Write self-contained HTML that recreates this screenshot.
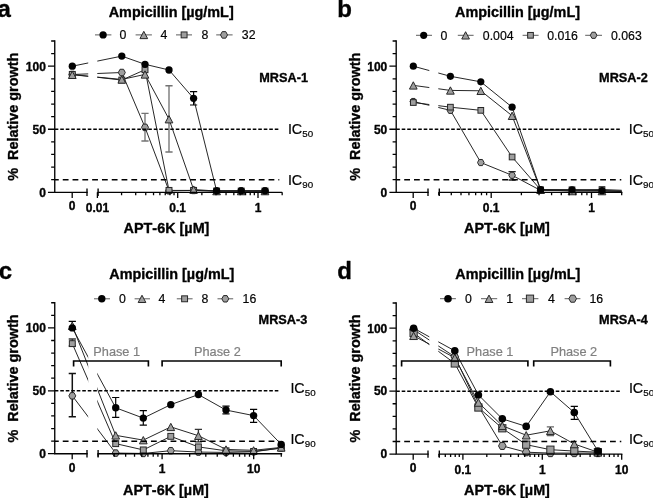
<!DOCTYPE html>
<html><head><meta charset="utf-8"><title>Figure</title>
<style>
html,body{margin:0;padding:0;background:#fff;}
body{width:653px;height:498px;overflow:hidden;font-family:"Liberation Sans",sans-serif;}
svg{display:block;will-change:opacity;font-family:"Liberation Sans",sans-serif;font-kerning:none;}

</style></head><body>
<svg width="653" height="498" viewBox="0 0 653 498">
<rect width="653" height="498" fill="#fff"/>
<g opacity="0.995">
<text x="-2.6" y="16.7" font-size="24" font-weight="700" stroke="#000" stroke-width="0.35" stroke-linejoin="round">a</text>
<text x="171.2" y="17.0" font-size="14.4" font-weight="700" stroke="#000" stroke-width="0.35" stroke-linejoin="round" text-anchor="middle">Ampicillin [µg/mL]</text>
<text transform="translate(18.4,116.7) rotate(-90)" font-size="14.4" font-weight="700" stroke="#000" stroke-width="0.35" stroke-linejoin="round" text-anchor="middle" xml:space="preserve">%  Relative growth</text>
<text x="166.5" y="233.2" font-size="14.4" font-weight="700" stroke="#000" stroke-width="0.35" stroke-linejoin="round" text-anchor="middle">APT-6K [µM]</text>
<text x="259.3" y="82.3" font-size="12.7" font-weight="700" stroke="#000" stroke-width="0.35" stroke-linejoin="round">MRSA-1</text>
<clipPath id="clipa"><rect x="0" y="0" width="88.2" height="498"/><rect x="97.3" y="0" width="700" height="498"/></clipPath>
<path d="M72.30 74.52L121.80 72.51L145.00 127.36L169.00 190.79L193.60 190.41L216.60 191.04L241.20 191.04L265.00 191.04" stroke="#1a1a1a" stroke-width="0.95" fill="none" clip-path="url(#clipa)" stroke-linejoin="round"/>
<path d="M72.30 74.40L121.80 80.07L145.00 69.73L169.00 190.41L193.60 190.41L216.60 191.04L241.20 191.04L265.00 191.04" stroke="#1a1a1a" stroke-width="0.95" fill="none" clip-path="url(#clipa)" stroke-linejoin="round"/>
<path d="M72.30 74.77L121.80 79.44L145.00 74.40L169.00 119.16L193.60 189.53L216.60 191.04L241.20 191.04L265.00 191.04" stroke="#1a1a1a" stroke-width="0.95" fill="none" clip-path="url(#clipa)" stroke-linejoin="round"/>
<path d="M72.30 66.20L121.80 56.11L145.00 64.31L169.00 69.98L193.60 98.36L216.60 190.79L241.20 190.79L265.00 190.79" stroke="#1a1a1a" stroke-width="0.95" fill="none" clip-path="url(#clipa)" stroke-linejoin="round"/>
<path d="M145.00 113.30V141.00M141.40 113.30H148.60M141.40 141.00H148.60" stroke="#727272" stroke-width="1.35" fill="none"/>
<polygon points="75.80,74.52 74.05,77.78 70.55,77.78 68.80,74.52 70.55,71.27 74.05,71.27" fill="#9e9e9e" stroke="#262626" stroke-width="1.0"/>
<polygon points="125.30,72.51 123.55,75.76 120.05,75.76 118.30,72.51 120.05,69.25 123.55,69.25" fill="#9e9e9e" stroke="#262626" stroke-width="1.0"/>
<polygon points="148.50,127.36 146.75,130.61 143.25,130.61 141.50,127.36 143.25,124.10 146.75,124.10" fill="#9e9e9e" stroke="#262626" stroke-width="1.0"/>
<polygon points="172.50,190.79 170.75,194.04 167.25,194.04 165.50,190.79 167.25,187.53 170.75,187.53" fill="#9e9e9e" stroke="#262626" stroke-width="1.0"/>
<polygon points="197.10,190.41 195.35,193.66 191.85,193.66 190.10,190.41 191.85,187.15 195.35,187.15" fill="#9e9e9e" stroke="#262626" stroke-width="1.0"/>
<polygon points="220.10,191.04 218.35,194.29 214.85,194.29 213.10,191.04 214.85,187.78 218.35,187.78" fill="#9e9e9e" stroke="#262626" stroke-width="1.0"/>
<polygon points="244.70,191.04 242.95,194.29 239.45,194.29 237.70,191.04 239.45,187.78 242.95,187.78" fill="#9e9e9e" stroke="#262626" stroke-width="1.0"/>
<polygon points="268.50,191.04 266.75,194.29 263.25,194.29 261.50,191.04 263.25,187.78 266.75,187.78" fill="#9e9e9e" stroke="#262626" stroke-width="1.0"/>
<rect x="69.35" y="71.45" width="5.90" height="5.90" fill="#9e9e9e" stroke="#262626" stroke-width="1.0"/>
<rect x="118.85" y="77.12" width="5.90" height="5.90" fill="#9e9e9e" stroke="#262626" stroke-width="1.0"/>
<rect x="142.05" y="66.78" width="5.90" height="5.90" fill="#9e9e9e" stroke="#262626" stroke-width="1.0"/>
<rect x="166.05" y="187.46" width="5.90" height="5.90" fill="#9e9e9e" stroke="#262626" stroke-width="1.0"/>
<rect x="190.65" y="187.46" width="5.90" height="5.90" fill="#9e9e9e" stroke="#262626" stroke-width="1.0"/>
<rect x="213.65" y="188.09" width="5.90" height="5.90" fill="#9e9e9e" stroke="#262626" stroke-width="1.0"/>
<rect x="238.25" y="188.09" width="5.90" height="5.90" fill="#9e9e9e" stroke="#262626" stroke-width="1.0"/>
<rect x="262.05" y="188.09" width="5.90" height="5.90" fill="#9e9e9e" stroke="#262626" stroke-width="1.0"/>
<path d="M169.00 85.70V152.00M165.40 85.70H172.60M165.40 152.00H172.60" stroke="#727272" stroke-width="1.35" fill="none"/>
<path d="M72.30 71.19L76.15 78.51L68.45 78.51Z" fill="#9e9e9e" stroke="#262626" stroke-width="1.0" stroke-linejoin="miter"/>
<path d="M121.80 75.86L125.65 83.17L117.95 83.17Z" fill="#9e9e9e" stroke="#262626" stroke-width="1.0" stroke-linejoin="miter"/>
<path d="M145.00 70.82L148.85 78.13L141.15 78.13Z" fill="#9e9e9e" stroke="#262626" stroke-width="1.0" stroke-linejoin="miter"/>
<path d="M169.00 115.58L172.85 122.90L165.15 122.90Z" fill="#9e9e9e" stroke="#262626" stroke-width="1.0" stroke-linejoin="miter"/>
<path d="M193.60 185.95L197.45 193.26L189.75 193.26Z" fill="#9e9e9e" stroke="#262626" stroke-width="1.0" stroke-linejoin="miter"/>
<path d="M216.60 187.46L220.45 194.77L212.75 194.77Z" fill="#9e9e9e" stroke="#262626" stroke-width="1.0" stroke-linejoin="miter"/>
<path d="M241.20 187.46L245.05 194.77L237.35 194.77Z" fill="#9e9e9e" stroke="#262626" stroke-width="1.0" stroke-linejoin="miter"/>
<path d="M265.00 187.46L268.85 194.77L261.15 194.77Z" fill="#9e9e9e" stroke="#262626" stroke-width="1.0" stroke-linejoin="miter"/>
<path d="M193.60 91.70V105.00M190.00 91.70H197.20M190.00 105.00H197.20" stroke="#000" stroke-width="1.2" fill="none"/>
<circle cx="72.30" cy="66.20" r="3.65" fill="#000"/>
<circle cx="121.80" cy="56.11" r="3.65" fill="#000"/>
<circle cx="145.00" cy="64.31" r="3.65" fill="#000"/>
<circle cx="169.00" cy="69.98" r="3.65" fill="#000"/>
<circle cx="193.60" cy="98.36" r="3.65" fill="#000"/>
<circle cx="216.60" cy="190.79" r="3.65" fill="#000"/>
<circle cx="241.20" cy="190.79" r="3.65" fill="#000"/>
<circle cx="265.00" cy="190.79" r="3.65" fill="#000"/>
<path d="M54.75 129.25H279.3" stroke="#000" stroke-width="1.45" stroke-dasharray="3.6 1.9" fill="none"/>
<path d="M54.75 179.69H279.3" stroke="#000" stroke-width="1.45" stroke-dasharray="5.8 4.0" stroke-dashoffset="1.8" fill="none"/>
<text x="287.9" y="134.00" font-size="14.3" stroke="#000" stroke-width="0.2">IC<tspan font-size="9.8" dy="3.2">50</tspan></text>
<text x="287.9" y="184.70" font-size="14.3" stroke="#000" stroke-width="0.2">IC<tspan font-size="9.8" dy="3.2">90</tspan></text>
<path d="M54.75 40.98V192.30H87.0M98.1 192.30H281.5" stroke="#000" stroke-width="1.35" fill="none" stroke-linecap="square"/>
<path d="M87.0 188.60V196.00M98.1 188.60V196.00" stroke="#000" stroke-width="1.35" fill="none"/>
<path d="M47.95 192.30H54.75M51.15 179.69H54.75M51.15 167.08H54.75M51.15 154.47H54.75M51.15 141.86H54.75M47.95 129.25H54.75M51.15 116.64H54.75M51.15 104.03H54.75M51.15 91.42H54.75M51.15 78.81H54.75M47.95 66.20H54.75M51.15 53.59H54.75M51.15 40.98H54.75" stroke="#000" stroke-width="1.3" fill="none"/>
<text x="45.85" y="196.60" font-size="12" font-weight="700" stroke="#000" stroke-width="0.35" stroke-linejoin="round" text-anchor="end">0</text>
<text x="45.85" y="133.55" font-size="12" font-weight="700" stroke="#000" stroke-width="0.35" stroke-linejoin="round" text-anchor="end">50</text>
<text x="45.85" y="70.50" font-size="12" font-weight="700" stroke="#000" stroke-width="0.35" stroke-linejoin="round" text-anchor="end">100</text>
<path d="M72.2 192.3v5.6M97.40 192.3v5.6M121.57 192.3v3.0M135.71 192.3v3.0M145.75 192.3v3.0M153.53 192.3v3.0M159.89 192.3v3.0M165.26 192.3v3.0M169.92 192.3v3.0M174.03 192.3v3.0M177.70 192.3v5.6M201.87 192.3v3.0M216.01 192.3v3.0M226.05 192.3v3.0M233.83 192.3v3.0M240.19 192.3v3.0M245.56 192.3v3.0M250.22 192.3v3.0M254.33 192.3v3.0M258.00 192.3v5.6M282.17 192.3v3.0" stroke="#000" stroke-width="1.3" fill="none"/>
<text x="72.2" y="210.30" font-size="12" font-weight="700" stroke="#000" stroke-width="0.35" stroke-linejoin="round" text-anchor="middle">0</text>
<text x="97.40" y="212.00" font-size="12" font-weight="700" stroke="#000" stroke-width="0.35" stroke-linejoin="round" text-anchor="middle">0.01</text>
<text x="177.70" y="212.00" font-size="12" font-weight="700" stroke="#000" stroke-width="0.35" stroke-linejoin="round" text-anchor="middle">0.1</text>
<text x="258.00" y="212.00" font-size="12" font-weight="700" stroke="#000" stroke-width="0.35" stroke-linejoin="round" text-anchor="middle">1</text>
<path d="M95.0 34.9H111.4" stroke="#333" stroke-width="0.8"/>
<circle cx="103.10" cy="34.90" r="3.65" fill="#000"/>
<text x="119.6" y="39.20" font-size="12.3" stroke="#000" stroke-width="0.2">0</text>
<path d="M135.6 34.9H151.9" stroke="#333" stroke-width="0.8"/>
<path d="M143.80 31.32L147.65 38.63L139.95 38.63Z" fill="#9e9e9e" stroke="#262626" stroke-width="1.0" stroke-linejoin="miter"/>
<text x="160.6" y="39.20" font-size="12.3" stroke="#000" stroke-width="0.2">4</text>
<path d="M176.0 34.9H192.0" stroke="#333" stroke-width="0.8"/>
<rect x="181.15" y="31.95" width="5.90" height="5.90" fill="#9e9e9e" stroke="#262626" stroke-width="1.0"/>
<text x="201.5" y="39.20" font-size="12.3" stroke="#000" stroke-width="0.2">8</text>
<path d="M216.2 34.9H232.6" stroke="#333" stroke-width="0.8"/>
<polygon points="227.50,34.90 225.75,38.16 222.25,38.16 220.50,34.90 222.25,31.64 225.75,31.64" fill="#9e9e9e" stroke="#262626" stroke-width="1.0"/>
<text x="241.8" y="39.20" font-size="12.3" stroke="#000" stroke-width="0.2">32</text>
<text x="337.2" y="16.7" font-size="24" font-weight="700" stroke="#000" stroke-width="0.35" stroke-linejoin="round">b</text>
<text x="517.5" y="17.0" font-size="14.4" font-weight="700" stroke="#000" stroke-width="0.35" stroke-linejoin="round" text-anchor="middle">Ampicillin [µg/mL]</text>
<text transform="translate(359.6,116.7) rotate(-90)" font-size="14.4" font-weight="700" stroke="#000" stroke-width="0.35" stroke-linejoin="round" text-anchor="middle" xml:space="preserve">%  Relative growth</text>
<text x="507.0" y="233.3" font-size="14.4" font-weight="700" stroke="#000" stroke-width="0.35" stroke-linejoin="round" text-anchor="middle">APT-6K [µM]</text>
<text x="599.1" y="82.3" font-size="12.7" font-weight="700" stroke="#000" stroke-width="0.35" stroke-linejoin="round">MRSA-2</text>
<clipPath id="clipb"><rect x="0" y="0" width="429.3" height="498"/><rect x="438.3" y="0" width="700" height="498"/></clipPath>
<path d="M413.30 101.51L450.40 110.34L480.80 162.54L512.10 175.28L540.60 190.41L572.00 190.66L602.00 190.79L621.70 191.04" stroke="#1a1a1a" stroke-width="0.95" fill="none" clip-path="url(#clipb)" stroke-linejoin="round"/>
<path d="M413.30 102.52L450.40 107.18L480.80 110.34L512.10 156.99L540.60 189.78L572.00 189.78L602.00 189.53L621.70 190.28" stroke="#1a1a1a" stroke-width="0.95" fill="none" clip-path="url(#clipb)" stroke-linejoin="round"/>
<path d="M413.30 85.37L450.40 90.41L480.80 90.79L512.10 115.76L540.60 189.78L572.00 191.04L602.00 191.04L621.70 191.29" stroke="#1a1a1a" stroke-width="0.95" fill="none" clip-path="url(#clipb)" stroke-linejoin="round"/>
<path d="M413.30 66.20L450.40 76.29L480.80 81.84L512.10 107.18L540.60 189.53L572.00 189.78L602.00 190.66L621.70 191.54" stroke="#1a1a1a" stroke-width="0.95" fill="none" clip-path="url(#clipb)" stroke-linejoin="round"/>
<path d="M512.10 171.60V180.00M508.50 171.60H515.70M508.50 180.00H515.70" stroke="#222" stroke-width="1.35" fill="none"/>
<polygon points="416.60,101.51 414.95,104.58 411.65,104.58 410.00,101.51 411.65,98.44 414.95,98.44" fill="#9e9e9e" stroke="#262626" stroke-width="1.0"/>
<polygon points="453.70,110.34 452.05,113.40 448.75,113.40 447.10,110.34 448.75,107.27 452.05,107.27" fill="#9e9e9e" stroke="#262626" stroke-width="1.0"/>
<polygon points="484.10,162.54 482.45,165.61 479.15,165.61 477.50,162.54 479.15,159.47 482.45,159.47" fill="#9e9e9e" stroke="#262626" stroke-width="1.0"/>
<polygon points="515.40,175.28 513.75,178.35 510.45,178.35 508.80,175.28 510.45,172.21 513.75,172.21" fill="#9e9e9e" stroke="#262626" stroke-width="1.0"/>
<polygon points="543.90,190.41 542.25,193.48 538.95,193.48 537.30,190.41 538.95,187.34 542.25,187.34" fill="#9e9e9e" stroke="#262626" stroke-width="1.0"/>
<polygon points="575.30,190.66 573.65,193.73 570.35,193.73 568.70,190.66 570.35,187.59 573.65,187.59" fill="#9e9e9e" stroke="#262626" stroke-width="1.0"/>
<polygon points="605.30,190.79 603.65,193.86 600.35,193.86 598.70,190.79 600.35,187.72 603.65,187.72" fill="#9e9e9e" stroke="#262626" stroke-width="1.0"/>
<rect x="410.45" y="99.67" width="5.70" height="5.70" fill="#9e9e9e" stroke="#262626" stroke-width="1.0"/>
<rect x="447.55" y="104.33" width="5.70" height="5.70" fill="#9e9e9e" stroke="#262626" stroke-width="1.0"/>
<rect x="477.95" y="107.49" width="5.70" height="5.70" fill="#9e9e9e" stroke="#262626" stroke-width="1.0"/>
<rect x="509.25" y="154.14" width="5.70" height="5.70" fill="#9e9e9e" stroke="#262626" stroke-width="1.0"/>
<rect x="537.75" y="186.93" width="5.70" height="5.70" fill="#9e9e9e" stroke="#262626" stroke-width="1.0"/>
<rect x="569.15" y="186.93" width="5.70" height="5.70" fill="#9e9e9e" stroke="#262626" stroke-width="1.0"/>
<rect x="599.15" y="186.68" width="5.70" height="5.70" fill="#9e9e9e" stroke="#262626" stroke-width="1.0"/>
<path d="M413.30 81.79L417.15 89.10L409.45 89.10Z" fill="#9e9e9e" stroke="#262626" stroke-width="1.0" stroke-linejoin="miter"/>
<path d="M450.40 86.83L454.25 94.15L446.55 94.15Z" fill="#9e9e9e" stroke="#262626" stroke-width="1.0" stroke-linejoin="miter"/>
<path d="M480.80 87.21L484.65 94.52L476.95 94.52Z" fill="#9e9e9e" stroke="#262626" stroke-width="1.0" stroke-linejoin="miter"/>
<path d="M512.10 112.18L515.95 119.49L508.25 119.49Z" fill="#9e9e9e" stroke="#262626" stroke-width="1.0" stroke-linejoin="miter"/>
<path d="M540.60 186.20L544.45 193.51L536.75 193.51Z" fill="#9e9e9e" stroke="#262626" stroke-width="1.0" stroke-linejoin="miter"/>
<path d="M572.00 187.46L575.85 194.77L568.15 194.77Z" fill="#9e9e9e" stroke="#262626" stroke-width="1.0" stroke-linejoin="miter"/>
<path d="M602.00 187.46L605.85 194.77L598.15 194.77Z" fill="#9e9e9e" stroke="#262626" stroke-width="1.0" stroke-linejoin="miter"/>
<circle cx="413.30" cy="66.20" r="3.60" fill="#000"/>
<circle cx="450.40" cy="76.29" r="3.60" fill="#000"/>
<circle cx="480.80" cy="81.84" r="3.60" fill="#000"/>
<circle cx="512.10" cy="107.18" r="3.60" fill="#000"/>
<circle cx="540.60" cy="189.53" r="3.60" fill="#000"/>
<circle cx="572.00" cy="189.78" r="3.60" fill="#000"/>
<circle cx="602.00" cy="190.66" r="3.60" fill="#000"/>
<path d="M396.2 129.25H621.3" stroke="#000" stroke-width="1.45" stroke-dasharray="3.6 1.9" fill="none"/>
<path d="M396.2 179.69H621.3" stroke="#000" stroke-width="1.45" stroke-dasharray="5.8 4.0" stroke-dashoffset="1.8" fill="none"/>
<text x="628.7" y="133.90" font-size="14.3" stroke="#000" stroke-width="0.2">IC<tspan font-size="9.8" dy="3.2">50</tspan></text>
<text x="628.7" y="184.80" font-size="14.3" stroke="#000" stroke-width="0.2">IC<tspan font-size="9.8" dy="3.2">90</tspan></text>
<path d="M396.2 40.98V192.30H428.0M439.3 192.30H621.7" stroke="#000" stroke-width="1.35" fill="none" stroke-linecap="square"/>
<path d="M428.0 188.60V196.00M439.3 188.60V196.00" stroke="#000" stroke-width="1.35" fill="none"/>
<path d="M389.40 192.30H396.2M392.60 179.69H396.2M392.60 167.08H396.2M392.60 154.47H396.2M392.60 141.86H396.2M389.40 129.25H396.2M392.60 116.64H396.2M392.60 104.03H396.2M392.60 91.42H396.2M392.60 78.81H396.2M389.40 66.20H396.2M392.60 53.59H396.2M392.60 40.98H396.2" stroke="#000" stroke-width="1.3" fill="none"/>
<text x="387.30" y="196.60" font-size="12" font-weight="700" stroke="#000" stroke-width="0.35" stroke-linejoin="round" text-anchor="end">0</text>
<text x="387.30" y="133.55" font-size="12" font-weight="700" stroke="#000" stroke-width="0.35" stroke-linejoin="round" text-anchor="end">50</text>
<text x="387.30" y="70.50" font-size="12" font-weight="700" stroke="#000" stroke-width="0.35" stroke-linejoin="round" text-anchor="end">100</text>
<path d="M413.2 192.3v5.6M438.76 192.3v3.0M451.29 192.3v3.0M461.01 192.3v3.0M468.95 192.3v3.0M475.66 192.3v3.0M481.48 192.3v3.0M486.61 192.3v3.0M491.20 192.3v5.6M521.39 192.3v3.0M539.06 192.3v3.0M551.59 192.3v3.0M561.31 192.3v3.0M569.25 192.3v3.0M575.96 192.3v3.0M581.78 192.3v3.0M586.91 192.3v3.0M591.50 192.3v5.6M621.69 192.3v3.0" stroke="#000" stroke-width="1.3" fill="none"/>
<text x="413.2" y="210.30" font-size="12" font-weight="700" stroke="#000" stroke-width="0.35" stroke-linejoin="round" text-anchor="middle">0</text>
<text x="491.20" y="212.00" font-size="12" font-weight="700" stroke="#000" stroke-width="0.35" stroke-linejoin="round" text-anchor="middle">0.1</text>
<text x="591.50" y="212.00" font-size="12" font-weight="700" stroke="#000" stroke-width="0.35" stroke-linejoin="round" text-anchor="middle">1</text>
<path d="M416.0 35.3H432.0" stroke="#333" stroke-width="0.8"/>
<circle cx="423.70" cy="35.30" r="3.60" fill="#000"/>
<text x="440.5" y="39.60" font-size="12.3" stroke="#000" stroke-width="0.2">0</text>
<path d="M457.8 35.3H473.6" stroke="#333" stroke-width="0.8"/>
<path d="M465.60 31.72L469.45 39.03L461.75 39.03Z" fill="#9e9e9e" stroke="#262626" stroke-width="1.0" stroke-linejoin="miter"/>
<text x="482.8" y="39.60" font-size="12.3" stroke="#000" stroke-width="0.2">0.004</text>
<path d="M522.6 35.3H538.6" stroke="#333" stroke-width="0.8"/>
<rect x="527.65" y="32.45" width="5.70" height="5.70" fill="#9e9e9e" stroke="#262626" stroke-width="1.0"/>
<text x="547.2" y="39.60" font-size="12.3" stroke="#000" stroke-width="0.2">0.016</text>
<path d="M585.2 35.3H602.0" stroke="#333" stroke-width="0.8"/>
<polygon points="596.90,35.30 595.25,38.37 591.95,38.37 590.30,35.30 591.95,32.23 595.25,32.23" fill="#9e9e9e" stroke="#262626" stroke-width="1.0"/>
<text x="611.0" y="39.60" font-size="12.3" stroke="#000" stroke-width="0.2">0.063</text>
<text x="-1.3" y="278.7" font-size="24" font-weight="700" stroke="#000" stroke-width="0.35" stroke-linejoin="round">c</text>
<text x="171.8" y="279.4" font-size="14.4" font-weight="700" stroke="#000" stroke-width="0.35" stroke-linejoin="round" text-anchor="middle">Ampicillin [µg/mL]</text>
<text transform="translate(18.4,378.5) rotate(-90)" font-size="14.4" font-weight="700" stroke="#000" stroke-width="0.35" stroke-linejoin="round" text-anchor="middle" xml:space="preserve">%  Relative growth</text>
<text x="166.0" y="494.7" font-size="14.4" font-weight="700" stroke="#000" stroke-width="0.35" stroke-linejoin="round" text-anchor="middle">APT-6K [µM]</text>
<text x="258.6" y="323.8" font-size="12.7" font-weight="700" stroke="#000" stroke-width="0.35" stroke-linejoin="round">MRSA-3</text>
<clipPath id="clipc"><rect x="0" y="0" width="88.2" height="498"/><rect x="97.3" y="0" width="700" height="498"/></clipPath>
<path d="M72.30 395.83L115.70 453.07L143.30 453.45L170.80 450.68L198.40 452.06L226.00 452.44L253.60 451.81L281.20 448.04" stroke="#1a1a1a" stroke-width="0.95" fill="none" clip-path="url(#clipc)" stroke-linejoin="round"/>
<path d="M72.30 343.62L115.70 443.64L143.30 449.93L170.80 436.34L198.40 446.91L226.00 450.81L253.60 451.44L281.20 448.04" stroke="#1a1a1a" stroke-width="0.95" fill="none" clip-path="url(#clipc)" stroke-linejoin="round"/>
<path d="M72.30 325.76L115.70 435.33L143.30 440.11L170.80 426.90L198.40 435.71L226.00 449.42L253.60 450.30L281.20 447.41" stroke="#1a1a1a" stroke-width="0.95" fill="none" clip-path="url(#clipc)" stroke-linejoin="round"/>
<path d="M72.30 327.90L115.70 407.78L143.30 418.10L170.80 404.64L198.40 394.57L226.00 410.05L253.60 415.58L281.20 444.39" stroke="#1a1a1a" stroke-width="0.95" fill="none" clip-path="url(#clipc)" stroke-linejoin="round"/>
<path d="M72.30 373.40V416.80M68.70 373.40H75.90M68.70 416.80H75.90" stroke="#111" stroke-width="1.5" fill="none"/>
<polygon points="75.75,395.83 74.02,399.04 70.58,399.04 68.85,395.83 70.58,392.62 74.02,392.62" fill="#9e9e9e" stroke="#262626" stroke-width="1.0"/>
<polygon points="119.15,453.07 117.42,456.28 113.98,456.28 112.25,453.07 113.98,449.86 117.42,449.86" fill="#9e9e9e" stroke="#262626" stroke-width="1.0"/>
<polygon points="146.75,453.45 145.03,456.66 141.58,456.66 139.85,453.45 141.58,450.24 145.03,450.24" fill="#9e9e9e" stroke="#262626" stroke-width="1.0"/>
<polygon points="174.25,450.68 172.53,453.89 169.08,453.89 167.35,450.68 169.08,447.47 172.53,447.47" fill="#9e9e9e" stroke="#262626" stroke-width="1.0"/>
<polygon points="201.85,452.06 200.12,455.27 196.68,455.27 194.95,452.06 196.68,448.86 200.12,448.86" fill="#9e9e9e" stroke="#262626" stroke-width="1.0"/>
<polygon points="229.45,452.44 227.72,455.65 224.28,455.65 222.55,452.44 224.28,449.23 227.72,449.23" fill="#9e9e9e" stroke="#262626" stroke-width="1.0"/>
<polygon points="257.05,451.81 255.32,455.02 251.88,455.02 250.15,451.81 251.88,448.60 255.32,448.60" fill="#9e9e9e" stroke="#262626" stroke-width="1.0"/>
<polygon points="284.65,448.04 282.93,451.25 279.47,451.25 277.75,448.04 279.47,444.83 282.93,444.83" fill="#9e9e9e" stroke="#262626" stroke-width="1.0"/>
<path d="M72.30 339.00V346.00M68.70 339.00H75.90M68.70 346.00H75.90" stroke="#333" stroke-width="1.35" fill="none"/>
<rect x="69.35" y="340.68" width="5.90" height="5.90" fill="#9e9e9e" stroke="#262626" stroke-width="1.0"/>
<rect x="112.75" y="440.69" width="5.90" height="5.90" fill="#9e9e9e" stroke="#262626" stroke-width="1.0"/>
<rect x="140.35" y="446.98" width="5.90" height="5.90" fill="#9e9e9e" stroke="#262626" stroke-width="1.0"/>
<rect x="167.85" y="433.39" width="5.90" height="5.90" fill="#9e9e9e" stroke="#262626" stroke-width="1.0"/>
<rect x="195.45" y="443.96" width="5.90" height="5.90" fill="#9e9e9e" stroke="#262626" stroke-width="1.0"/>
<rect x="223.05" y="447.86" width="5.90" height="5.90" fill="#9e9e9e" stroke="#262626" stroke-width="1.0"/>
<rect x="250.65" y="448.49" width="5.90" height="5.90" fill="#9e9e9e" stroke="#262626" stroke-width="1.0"/>
<rect x="278.25" y="445.09" width="5.90" height="5.90" fill="#9e9e9e" stroke="#262626" stroke-width="1.0"/>
<path d="M72.30 321.40V329.50M68.70 321.40H75.90M68.70 329.50H75.90" stroke="#000" stroke-width="1.2" fill="none"/>
<path d="M198.40 429.40V441.80M194.80 429.40H202.00M194.80 441.80H202.00" stroke="#333" stroke-width="1.35" fill="none"/>
<path d="M72.30 322.18L76.15 329.50L68.45 329.50Z" fill="#9e9e9e" stroke="#262626" stroke-width="1.0" stroke-linejoin="miter"/>
<path d="M115.70 431.75L119.55 439.07L111.85 439.07Z" fill="#9e9e9e" stroke="#262626" stroke-width="1.0" stroke-linejoin="miter"/>
<path d="M143.30 436.53L147.15 443.85L139.45 443.85Z" fill="#9e9e9e" stroke="#262626" stroke-width="1.0" stroke-linejoin="miter"/>
<path d="M170.80 423.32L174.65 430.64L166.95 430.64Z" fill="#9e9e9e" stroke="#262626" stroke-width="1.0" stroke-linejoin="miter"/>
<path d="M198.40 432.13L202.25 439.45L194.55 439.45Z" fill="#9e9e9e" stroke="#262626" stroke-width="1.0" stroke-linejoin="miter"/>
<path d="M226.00 445.84L229.85 453.16L222.15 453.16Z" fill="#9e9e9e" stroke="#262626" stroke-width="1.0" stroke-linejoin="miter"/>
<path d="M253.60 446.72L257.45 454.04L249.75 454.04Z" fill="#9e9e9e" stroke="#262626" stroke-width="1.0" stroke-linejoin="miter"/>
<path d="M281.20 443.83L285.05 451.14L277.35 451.14Z" fill="#9e9e9e" stroke="#262626" stroke-width="1.0" stroke-linejoin="miter"/>
<path d="M115.70 397.50V417.30M112.10 397.50H119.30M112.10 417.30H119.30" stroke="#000" stroke-width="1.2" fill="none"/>
<path d="M143.30 410.60V425.10M139.70 410.60H146.90M139.70 425.10H146.90" stroke="#000" stroke-width="1.2" fill="none"/>
<path d="M226.00 406.20V413.80M222.40 406.20H229.60M222.40 413.80H229.60" stroke="#000" stroke-width="1.2" fill="none"/>
<path d="M253.60 409.30V422.40M250.00 409.30H257.20M250.00 422.40H257.20" stroke="#000" stroke-width="1.2" fill="none"/>
<circle cx="72.30" cy="327.90" r="3.70" fill="#000"/>
<circle cx="115.70" cy="407.78" r="3.70" fill="#000"/>
<circle cx="143.30" cy="418.10" r="3.70" fill="#000"/>
<circle cx="170.80" cy="404.64" r="3.70" fill="#000"/>
<circle cx="198.40" cy="394.57" r="3.70" fill="#000"/>
<circle cx="226.00" cy="410.05" r="3.70" fill="#000"/>
<circle cx="253.60" cy="415.58" r="3.70" fill="#000"/>
<circle cx="281.20" cy="444.39" r="3.70" fill="#000"/>
<path d="M54.75 390.75H279.3" stroke="#000" stroke-width="1.45" stroke-dasharray="3.6 1.9" fill="none"/>
<path d="M54.75 441.30H279.3" stroke="#000" stroke-width="1.45" stroke-dasharray="5.8 4.0" stroke-dashoffset="1.8" fill="none"/>
<text x="290.4" y="392.50" font-size="14.3" stroke="#000" stroke-width="0.2">IC<tspan font-size="9.8" dy="3.2">50</tspan></text>
<text x="290.4" y="443.80" font-size="14.3" stroke="#000" stroke-width="0.2">IC<tspan font-size="9.8" dy="3.2">90</tspan></text>
<path d="M54.75 302.74V453.70H87.0M98.1 453.70H281.5" stroke="#000" stroke-width="1.35" fill="none" stroke-linecap="square"/>
<path d="M87.0 450.00V457.40M98.1 450.00V457.40" stroke="#000" stroke-width="1.35" fill="none"/>
<path d="M47.95 453.70H54.75M51.15 441.12H54.75M51.15 428.54H54.75M51.15 415.96H54.75M51.15 403.38H54.75M47.95 390.80H54.75M51.15 378.22H54.75M51.15 365.64H54.75M51.15 353.06H54.75M51.15 340.48H54.75M47.95 327.90H54.75M51.15 315.32H54.75M51.15 302.74H54.75" stroke="#000" stroke-width="1.3" fill="none"/>
<text x="45.85" y="458.00" font-size="12" font-weight="700" stroke="#000" stroke-width="0.35" stroke-linejoin="round" text-anchor="end">0</text>
<text x="45.85" y="395.10" font-size="12" font-weight="700" stroke="#000" stroke-width="0.35" stroke-linejoin="round" text-anchor="end">50</text>
<text x="45.85" y="332.20" font-size="12" font-weight="700" stroke="#000" stroke-width="0.35" stroke-linejoin="round" text-anchor="end">100</text>
<path d="M72.2 453.7v5.6M98.07 453.7v3.0M114.20 453.7v3.0M125.65 453.7v3.0M134.53 453.7v3.0M141.78 453.7v3.0M147.91 453.7v3.0M153.22 453.7v3.0M157.91 453.7v3.0M162.10 453.7v5.6M189.67 453.7v3.0M205.80 453.7v3.0M217.25 453.7v3.0M226.13 453.7v3.0M233.38 453.7v3.0M239.51 453.7v3.0M244.82 453.7v3.0M249.51 453.7v3.0M253.70 453.7v5.6M281.27 453.7v3.0" stroke="#000" stroke-width="1.3" fill="none"/>
<text x="72.2" y="471.70" font-size="12" font-weight="700" stroke="#000" stroke-width="0.35" stroke-linejoin="round" text-anchor="middle">0</text>
<text x="162.10" y="473.40" font-size="12" font-weight="700" stroke="#000" stroke-width="0.35" stroke-linejoin="round" text-anchor="middle">1</text>
<text x="253.70" y="473.40" font-size="12" font-weight="700" stroke="#000" stroke-width="0.35" stroke-linejoin="round" text-anchor="middle">10</text>
<path d="M94.0 298.8H110.0" stroke="#333" stroke-width="0.8"/>
<circle cx="101.80" cy="298.80" r="3.70" fill="#000"/>
<text x="119.0" y="303.10" font-size="12.3" stroke="#000" stroke-width="0.2">0</text>
<path d="M134.6 298.8H150.0" stroke="#333" stroke-width="0.8"/>
<path d="M142.00 295.22L145.85 302.53L138.15 302.53Z" fill="#9e9e9e" stroke="#262626" stroke-width="1.0" stroke-linejoin="miter"/>
<text x="158.6" y="303.10" font-size="12.3" stroke="#000" stroke-width="0.2">4</text>
<path d="M176.8 298.8H192.6" stroke="#333" stroke-width="0.8"/>
<rect x="181.65" y="295.85" width="5.90" height="5.90" fill="#9e9e9e" stroke="#262626" stroke-width="1.0"/>
<text x="201.5" y="303.10" font-size="12.3" stroke="#000" stroke-width="0.2">8</text>
<path d="M217.5 298.8H233.2" stroke="#333" stroke-width="0.8"/>
<polygon points="228.75,298.80 227.03,302.01 223.58,302.01 221.85,298.80 223.58,295.59 227.03,295.59" fill="#9e9e9e" stroke="#262626" stroke-width="1.0"/>
<text x="242.6" y="303.10" font-size="12.3" stroke="#000" stroke-width="0.2">16</text>
<path d="M73.6 366.6V361.0H148.4V366.6" stroke="#000" stroke-width="1.65" fill="none"/>
<text x="93.3" y="356.00" font-size="12.75" fill="#7f7f7f" stroke="#7f7f7f" stroke-width="0.2">Phase 1</text>
<path d="M162.1 366.6V361.0H281.2V366.6" stroke="#000" stroke-width="1.65" fill="none"/>
<text x="194.0" y="356.00" font-size="12.75" fill="#7f7f7f" stroke="#7f7f7f" stroke-width="0.2">Phase 2</text>
<text x="337.2" y="278.7" font-size="24" font-weight="700" stroke="#000" stroke-width="0.35" stroke-linejoin="round">d</text>
<text x="517.8" y="279.2" font-size="14.4" font-weight="700" stroke="#000" stroke-width="0.35" stroke-linejoin="round" text-anchor="middle">Ampicillin [µg/mL]</text>
<text transform="translate(359.6,378.5) rotate(-90)" font-size="14.4" font-weight="700" stroke="#000" stroke-width="0.35" stroke-linejoin="round" text-anchor="middle" xml:space="preserve">%  Relative growth</text>
<text x="507.0" y="495.0" font-size="14.4" font-weight="700" stroke="#000" stroke-width="0.35" stroke-linejoin="round" text-anchor="middle">APT-6K [µM]</text>
<text x="599.1" y="324.0" font-size="12.7" font-weight="700" stroke="#000" stroke-width="0.35" stroke-linejoin="round">MRSA-4</text>
<clipPath id="clipd"><rect x="0" y="0" width="429.3" height="498"/><rect x="438.3" y="0" width="700" height="498"/></clipPath>
<path d="M413.60 329.71L454.80 356.78L478.40 406.26L502.30 445.92L526.20 452.21L550.40 453.09L574.30 453.09L597.90 453.09" stroke="#1a1a1a" stroke-width="0.95" fill="none" clip-path="url(#clipd)" stroke-linejoin="round"/>
<path d="M413.60 332.98L454.80 363.45L478.40 407.52L502.30 428.29L526.20 444.66L550.40 449.69L574.30 451.08L597.90 452.21" stroke="#1a1a1a" stroke-width="0.95" fill="none" clip-path="url(#clipd)" stroke-linejoin="round"/>
<path d="M413.60 335.75L454.80 357.79L478.40 402.48L502.30 425.77L526.20 435.22L550.40 430.81L574.30 444.03L597.90 452.21" stroke="#1a1a1a" stroke-width="0.95" fill="none" clip-path="url(#clipd)" stroke-linejoin="round"/>
<path d="M413.60 328.20L454.80 350.86L478.40 394.93L502.30 418.85L526.20 426.40L550.40 391.78L574.30 412.55L597.90 450.95" stroke="#1a1a1a" stroke-width="0.95" fill="none" clip-path="url(#clipd)" stroke-linejoin="round"/>
<polygon points="417.40,329.71 415.50,333.24 411.70,333.24 409.80,329.71 411.70,326.18 415.50,326.18" fill="#9e9e9e" stroke="#262626" stroke-width="1.0"/>
<polygon points="458.60,356.78 456.70,360.31 452.90,360.31 451.00,356.78 452.90,353.25 456.70,353.25" fill="#9e9e9e" stroke="#262626" stroke-width="1.0"/>
<polygon points="482.20,406.26 480.30,409.79 476.50,409.79 474.60,406.26 476.50,402.72 480.30,402.72" fill="#9e9e9e" stroke="#262626" stroke-width="1.0"/>
<polygon points="506.10,445.92 504.20,449.45 500.40,449.45 498.50,445.92 500.40,442.38 504.20,442.38" fill="#9e9e9e" stroke="#262626" stroke-width="1.0"/>
<polygon points="530.00,452.21 528.10,455.75 524.30,455.75 522.40,452.21 524.30,448.68 528.10,448.68" fill="#9e9e9e" stroke="#262626" stroke-width="1.0"/>
<polygon points="554.20,453.09 552.30,456.63 548.50,456.63 546.60,453.09 548.50,449.56 552.30,449.56" fill="#9e9e9e" stroke="#262626" stroke-width="1.0"/>
<polygon points="578.10,453.09 576.20,456.63 572.40,456.63 570.50,453.09 572.40,449.56 576.20,449.56" fill="#9e9e9e" stroke="#262626" stroke-width="1.0"/>
<polygon points="601.70,453.09 599.80,456.63 596.00,456.63 594.10,453.09 596.00,449.56 599.80,449.56" fill="#9e9e9e" stroke="#262626" stroke-width="1.0"/>
<rect x="410.00" y="329.38" width="7.20" height="7.20" fill="#9e9e9e" stroke="#262626" stroke-width="1.0"/>
<rect x="451.20" y="359.85" width="7.20" height="7.20" fill="#9e9e9e" stroke="#262626" stroke-width="1.0"/>
<rect x="474.80" y="403.92" width="7.20" height="7.20" fill="#9e9e9e" stroke="#262626" stroke-width="1.0"/>
<rect x="498.70" y="424.69" width="7.20" height="7.20" fill="#9e9e9e" stroke="#262626" stroke-width="1.0"/>
<rect x="522.60" y="441.06" width="7.20" height="7.20" fill="#9e9e9e" stroke="#262626" stroke-width="1.0"/>
<rect x="546.80" y="446.09" width="7.20" height="7.20" fill="#9e9e9e" stroke="#262626" stroke-width="1.0"/>
<rect x="570.70" y="447.48" width="7.20" height="7.20" fill="#9e9e9e" stroke="#262626" stroke-width="1.0"/>
<rect x="594.30" y="448.61" width="7.20" height="7.20" fill="#9e9e9e" stroke="#262626" stroke-width="1.0"/>
<path d="M550.40 426.90V435.50M546.80 426.90H554.00M546.80 435.50H554.00" stroke="#666" stroke-width="1.35" fill="none"/>
<path d="M413.60 332.13L417.50 339.54L409.70 339.54Z" fill="#9e9e9e" stroke="#262626" stroke-width="1.0" stroke-linejoin="miter"/>
<path d="M454.80 354.16L458.70 361.57L450.90 361.57Z" fill="#9e9e9e" stroke="#262626" stroke-width="1.0" stroke-linejoin="miter"/>
<path d="M478.40 398.85L482.30 406.26L474.50 406.26Z" fill="#9e9e9e" stroke="#262626" stroke-width="1.0" stroke-linejoin="miter"/>
<path d="M502.30 422.15L506.20 429.56L498.40 429.56Z" fill="#9e9e9e" stroke="#262626" stroke-width="1.0" stroke-linejoin="miter"/>
<path d="M526.20 431.59L530.10 439.00L522.30 439.00Z" fill="#9e9e9e" stroke="#262626" stroke-width="1.0" stroke-linejoin="miter"/>
<path d="M550.40 427.18L554.30 434.59L546.50 434.59Z" fill="#9e9e9e" stroke="#262626" stroke-width="1.0" stroke-linejoin="miter"/>
<path d="M574.30 440.40L578.20 447.81L570.40 447.81Z" fill="#9e9e9e" stroke="#262626" stroke-width="1.0" stroke-linejoin="miter"/>
<path d="M597.90 448.58L601.80 455.99L594.00 455.99Z" fill="#9e9e9e" stroke="#262626" stroke-width="1.0" stroke-linejoin="miter"/>
<path d="M574.30 406.30V419.40M570.70 406.30H577.90M570.70 419.40H577.90" stroke="#000" stroke-width="1.2" fill="none"/>
<circle cx="413.60" cy="328.20" r="3.80" fill="#000"/>
<circle cx="454.80" cy="350.86" r="3.80" fill="#000"/>
<circle cx="478.40" cy="394.93" r="3.80" fill="#000"/>
<circle cx="502.30" cy="418.85" r="3.80" fill="#000"/>
<circle cx="526.20" cy="426.40" r="3.80" fill="#000"/>
<circle cx="550.40" cy="391.78" r="3.80" fill="#000"/>
<circle cx="574.30" cy="412.55" r="3.80" fill="#000"/>
<circle cx="597.90" cy="450.95" r="3.80" fill="#000"/>
<path d="M396.2 391.15H621.3" stroke="#000" stroke-width="1.45" stroke-dasharray="3.6 1.9" fill="none"/>
<path d="M396.2 441.51H621.3" stroke="#000" stroke-width="1.45" stroke-dasharray="5.8 4.0" stroke-dashoffset="1.8" fill="none"/>
<text x="628.9" y="393.00" font-size="14.3" stroke="#000" stroke-width="0.2">IC<tspan font-size="9.8" dy="3.2">50</tspan></text>
<text x="628.9" y="443.80" font-size="14.3" stroke="#000" stroke-width="0.2">IC<tspan font-size="9.8" dy="3.2">90</tspan></text>
<path d="M396.2 303.02V454.10H428.0M439.3 454.10H621.7" stroke="#000" stroke-width="1.35" fill="none" stroke-linecap="square"/>
<path d="M428.0 450.40V457.80M439.3 450.40V457.80" stroke="#000" stroke-width="1.35" fill="none"/>
<path d="M389.40 454.10H396.2M392.60 441.51H396.2M392.60 428.92H396.2M392.60 416.33H396.2M392.60 403.74H396.2M389.40 391.15H396.2M392.60 378.56H396.2M392.60 365.97H396.2M392.60 353.38H396.2M392.60 340.79H396.2M389.40 328.20H396.2M392.60 315.61H396.2M392.60 303.02H396.2" stroke="#000" stroke-width="1.3" fill="none"/>
<text x="387.30" y="458.40" font-size="12" font-weight="700" stroke="#000" stroke-width="0.35" stroke-linejoin="round" text-anchor="end">0</text>
<text x="387.30" y="395.45" font-size="12" font-weight="700" stroke="#000" stroke-width="0.35" stroke-linejoin="round" text-anchor="end">50</text>
<text x="387.30" y="332.50" font-size="12" font-weight="700" stroke="#000" stroke-width="0.35" stroke-linejoin="round" text-anchor="end">100</text>
<path d="M413.2 454.1v5.6M439.00 454.1v3.0M445.29 454.1v3.0M450.60 454.1v3.0M455.21 454.1v3.0M459.27 454.1v3.0M462.90 454.1v5.6M486.80 454.1v3.0M500.78 454.1v3.0M510.70 454.1v3.0M518.40 454.1v3.0M524.69 454.1v3.0M530.00 454.1v3.0M534.61 454.1v3.0M538.67 454.1v3.0M542.30 454.1v5.6M566.20 454.1v3.0M580.18 454.1v3.0M590.10 454.1v3.0M597.80 454.1v3.0M604.09 454.1v3.0M609.40 454.1v3.0M614.01 454.1v3.0M618.07 454.1v3.0M621.70 454.1v5.6" stroke="#000" stroke-width="1.3" fill="none"/>
<text x="413.2" y="472.10" font-size="12" font-weight="700" stroke="#000" stroke-width="0.35" stroke-linejoin="round" text-anchor="middle">0</text>
<text x="462.90" y="473.80" font-size="12" font-weight="700" stroke="#000" stroke-width="0.35" stroke-linejoin="round" text-anchor="middle">0.1</text>
<text x="542.30" y="473.80" font-size="12" font-weight="700" stroke="#000" stroke-width="0.35" stroke-linejoin="round" text-anchor="middle">1</text>
<text x="621.70" y="473.80" font-size="12" font-weight="700" stroke="#000" stroke-width="0.35" stroke-linejoin="round" text-anchor="middle">10</text>
<path d="M440.0 298.7H455.9" stroke="#333" stroke-width="0.8"/>
<circle cx="448.00" cy="298.70" r="3.80" fill="#000"/>
<text x="465.0" y="303.00" font-size="12.3" stroke="#000" stroke-width="0.2">0</text>
<path d="M481.0 298.7H497.2" stroke="#333" stroke-width="0.8"/>
<path d="M489.00 295.07L492.90 302.48L485.10 302.48Z" fill="#9e9e9e" stroke="#262626" stroke-width="1.0" stroke-linejoin="miter"/>
<text x="506.3" y="303.00" font-size="12.3" stroke="#000" stroke-width="0.2">1</text>
<path d="M522.0 298.7H538.4" stroke="#333" stroke-width="0.8"/>
<rect x="526.40" y="295.10" width="7.20" height="7.20" fill="#9e9e9e" stroke="#262626" stroke-width="1.0"/>
<text x="548.0" y="303.00" font-size="12.3" stroke="#000" stroke-width="0.2">4</text>
<path d="M564.6 298.7H580.4" stroke="#333" stroke-width="0.8"/>
<polygon points="576.50,298.70 574.60,302.23 570.80,302.23 568.90,298.70 570.80,295.17 574.60,295.17" fill="#9e9e9e" stroke="#262626" stroke-width="1.0"/>
<text x="589.5" y="303.00" font-size="12.3" stroke="#000" stroke-width="0.2">16</text>
<path d="M401.6 366.6V361.0H527.9V366.6" stroke="#000" stroke-width="1.65" fill="none"/>
<text x="466.6" y="356.00" font-size="12.75" fill="#7f7f7f" stroke="#7f7f7f" stroke-width="0.2">Phase 1</text>
<path d="M533.7 366.6V361.0H610.4V366.6" stroke="#000" stroke-width="1.65" fill="none"/>
<text x="550.4" y="356.00" font-size="12.75" fill="#7f7f7f" stroke="#7f7f7f" stroke-width="0.2">Phase 2</text>
</g>
</svg>
</body></html>
